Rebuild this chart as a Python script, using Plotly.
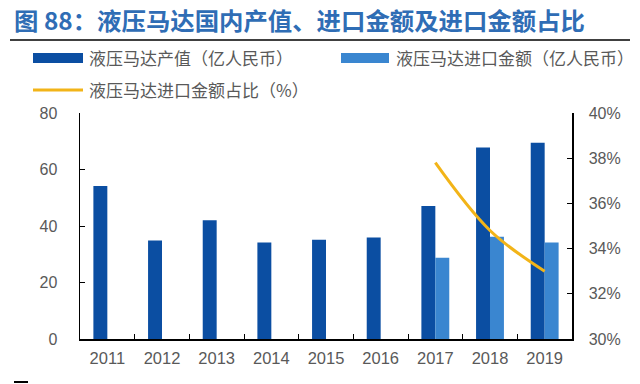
import plotly.graph_objects as go

years = ["2011", "2012", "2013", "2014", "2015", "2016", "2017", "2018", "2019"]
output_value = [54.2, 34.9, 42.0, 34.2, 35.1, 35.9, 47.1, 67.8, 69.5]
import_value = [None, None, None, None, None, None, 28.8, 36.2, 34.2]
import_share = [None, None, None, None, None, None, 37.8, 34.8, 33.0]
share_ticks = [30, 32, 34, 36, 38, 40]
share_tick_labels = ["30%", "32%", "34%", "36%", "38%", "40%"]

title_text = "图 88：液压马达国内产值、进口金额及进口金额占比"
name_output = "液压马达产值（亿人民币）"
name_import = "液压马达进口金额（亿人民币）"
name_share = "液压马达进口金额占比（%）"

DARK = "#0b4ea2"
LIGHT = "#3a86d0"
GOLD = "#f2b418"
GRAY = "#595959"
CJK = "Noto Sans CJK SC"
NUM = "Liberation Sans, Arial, sans-serif"

fig = go.Figure()
fig.add_trace(go.Bar(x=years, y=output_value, name=name_output, marker_color=DARK,
                     marker_line_width=0, showlegend=False))
fig.add_trace(go.Bar(x=years, y=import_value, name=name_import, marker_color=LIGHT,
                     marker_line_width=0, showlegend=False))
fig.add_trace(go.Scatter(x=years, y=import_share, name=name_share, yaxis="y2",
                         mode="lines", line=dict(color=GOLD, width=3, shape="spline", smoothing=1),
                         showlegend=False))

W, H = 640, 384
L, R, T, B = 80, 68, 113, 45

def px(x):
    return (x - L) / (W - L - R)

def py(y):
    return (H - B - y) / (H - T - B)

shapes = [
    dict(type="line", xref="paper", yref="paper", x0=px(10), x1=px(630), y0=py(40), y1=py(40),
         line=dict(color="black", width=1.5)),
    dict(type="rect", xref="paper", yref="paper", x0=px(33), x1=px(83), y0=py(63), y1=py(53),
         fillcolor=DARK, line_width=0),
    dict(type="rect", xref="paper", yref="paper", x0=px(341), x1=px(389), y0=py(63), y1=py(53),
         fillcolor=LIGHT, line_width=0),
    dict(type="line", xref="paper", yref="paper", x0=px(33), x1=px(83), y0=py(90), y1=py(90),
         line=dict(color=GOLD, width=3)),
    dict(type="line", xref="paper", yref="paper", x0=px(14), x1=px(28), y0=py(382), y1=py(382),
         line=dict(color="black", width=2)),
]

annotations = [
    dict(text="<b>" + title_text + "</b>", xref="paper", yref="paper", x=px(12), y=py(20),
         xanchor="left", yanchor="middle", showarrow=False,
         font=dict(family=CJK, size=24.4, color="#2f6db5")),
    dict(text=name_output, xref="paper", yref="paper", x=px(87), y=py(58),
         xanchor="left", yanchor="middle", showarrow=False,
         font=dict(family=CJK, size=17, color=GRAY)),
    dict(text=name_import, xref="paper", yref="paper", x=px(394), y=py(58),
         xanchor="left", yanchor="middle", showarrow=False,
         font=dict(family=CJK, size=17, color=GRAY)),
    dict(text=name_share, xref="paper", yref="paper", x=px(87), y=py(90),
         xanchor="left", yanchor="middle", showarrow=False,
         font=dict(family=CJK, size=17, color=GRAY)),
]

fig.update_layout(
    width=W, height=H,
    margin=dict(l=L, r=R, t=T, b=B, pad=0),
    paper_bgcolor="white", plot_bgcolor="white",
    barmode="group", bargap=0.49, bargroupgap=0,
    shapes=shapes, annotations=annotations,
    xaxis=dict(type="category", showline=True, linecolor="black", linewidth=1.5,
               ticks="inside", tickson="boundaries", ticklen=5, tickcolor="black",
               tickfont=dict(family=NUM, size=16.5, color=GRAY), showgrid=False,
               ticklabelstandoff=4),
    yaxis=dict(range=[0, 80], tickvals=[0, 20, 40, 60, 80], showline=True, linecolor="black",
               linewidth=1.5, ticks="inside", ticklen=5, tickcolor="black", showgrid=False,
               zeroline=False, tickfont=dict(family=NUM, size=16, color=GRAY),
               ticklabelstandoff=18),
    yaxis2=dict(range=[30, 40], tickmode="array", tickvals=share_ticks, ticktext=share_tick_labels,
                overlaying="y", side="right", showline=True, linecolor="black", linewidth=1.5,
                ticks="inside", ticklen=5, tickcolor="black", showgrid=False, zeroline=False,
                tickfont=dict(family=NUM, size=16, color=GRAY), ticklabelstandoff=12),
)

fig.write_html("out.html", config={"displayModeBar": False, "staticPlot": True},
               post_script="document.body.style.margin='0';document.body.style.overflow='hidden';")
